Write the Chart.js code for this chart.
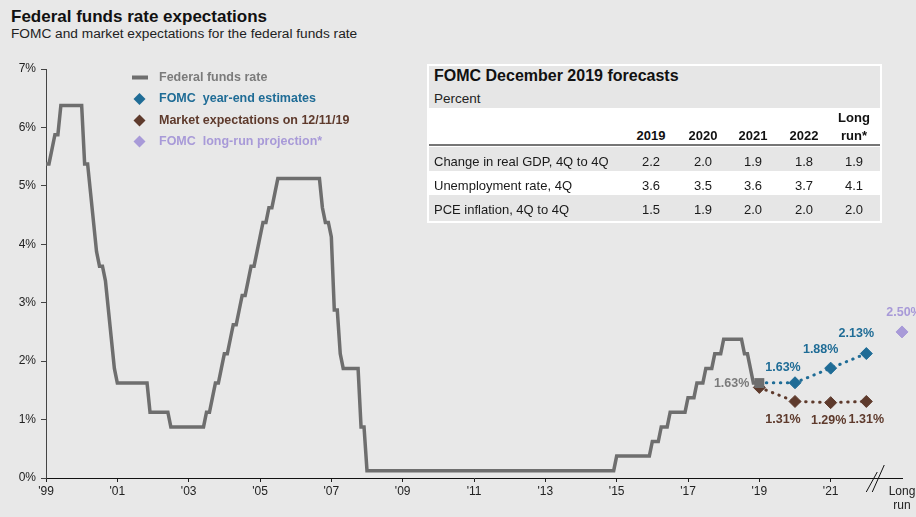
<!DOCTYPE html>
<html>
<head>
<meta charset="utf-8">
<title>Federal funds rate expectations</title>
<script src="https://cdn.jsdelivr.net/npm/chart.js@4.4.1/dist/chart.umd.min.js"></script>
<style>
  html, body { margin: 0; padding: 0; background: #e8e8e8; }
  #page { position: relative; width: 916px; height: 517px; overflow: hidden; background: #e8e8e8;
          font-family: "Liberation Sans", Arial, Helvetica, sans-serif; color: #111; }
  #page canvas { position: absolute; left: 0; top: 0; }
  .t { position: absolute; line-height: 1; white-space: nowrap; }
  .blk { position: absolute; }
</style>
</head>
<body>
<div id="page">
  <div class="t" style="left:11px;top:7.6px;font-size:17px;font-weight:bold;color:#111;">Federal funds rate expectations</div>
  <div class="t" style="left:11px;top:26.5px;font-size:13.7px;color:#222;">FOMC and market expectations for the federal funds rate</div>
  <canvas id="chart" width="916" height="517"></canvas>
  <div id="forecast"></div>
</div>
<script>
// ---- Data -------------------------------------------------------------

// Federal funds target (midpoint of a 25bp range), month-end, Dec 1999 - Dec 2019
const fedFundsRate = [
  5.375,                                                                      // Dec 1999
  5.375,5.625,5.875,5.875,6.375,6.375,6.375,6.375,6.375,6.375,6.375,6.375,  // 2000
  5.375,5.375,4.875,4.375,3.875,3.625,3.625,3.375,2.875,2.375,1.875,1.625,  // 2001
  1.625,1.625,1.625,1.625,1.625,1.625,1.625,1.625,1.625,1.625,1.125,1.125,  // 2002
  1.125,1.125,1.125,1.125,1.125,0.875,0.875,0.875,0.875,0.875,0.875,0.875,  // 2003
  0.875,0.875,0.875,0.875,0.875,1.125,1.125,1.375,1.625,1.625,1.875,2.125,  // 2004
  2.125,2.375,2.625,2.625,2.875,3.125,3.125,3.375,3.625,3.625,3.875,4.125,  // 2005
  4.375,4.375,4.625,4.625,4.875,5.125,5.125,5.125,5.125,5.125,5.125,5.125,  // 2006
  5.125,5.125,5.125,5.125,5.125,5.125,5.125,5.125,4.625,4.375,4.375,4.125,  // 2007
  2.875,2.875,2.125,1.875,1.875,1.875,1.875,1.875,1.875,0.875,0.875,0.125,  // 2008
  0.125,0.125,0.125,0.125,0.125,0.125,0.125,0.125,0.125,0.125,0.125,0.125,  // 2009
  0.125,0.125,0.125,0.125,0.125,0.125,0.125,0.125,0.125,0.125,0.125,0.125,  // 2010
  0.125,0.125,0.125,0.125,0.125,0.125,0.125,0.125,0.125,0.125,0.125,0.125,  // 2011
  0.125,0.125,0.125,0.125,0.125,0.125,0.125,0.125,0.125,0.125,0.125,0.125,  // 2012
  0.125,0.125,0.125,0.125,0.125,0.125,0.125,0.125,0.125,0.125,0.125,0.125,  // 2013
  0.125,0.125,0.125,0.125,0.125,0.125,0.125,0.125,0.125,0.125,0.125,0.125,  // 2014
  0.125,0.125,0.125,0.125,0.125,0.125,0.125,0.125,0.125,0.125,0.125,0.375,  // 2015
  0.375,0.375,0.375,0.375,0.375,0.375,0.375,0.375,0.375,0.375,0.375,0.625,  // 2016
  0.625,0.625,0.875,0.875,0.875,1.125,1.125,1.125,1.125,1.125,1.125,1.375,  // 2017
  1.375,1.375,1.625,1.625,1.625,1.875,1.875,1.875,2.125,2.125,2.125,2.375,  // 2018
  2.375,2.375,2.375,2.375,2.375,2.375,2.125,2.125,1.875,1.625,1.625,1.625   // 2019
];
const fedFundsFirstYearEnd = 1999;   // first entry is December 1999

// Year-end projections (x = end of year)
const projectionYears   = [2019, 2020, 2021, 2022];
const fomcYearEnd       = [1.63, 1.63, 1.88, 2.13];
const marketExpectation = [1.55, 1.31, 1.29, 1.31];
const longRunSlot       = 2023;
const fomcLongRun       = [2.50];

// Axis
const xTickValues = [1999, 2001, 2003, 2005, 2007, 2009, 2011, 2013, 2015, 2017, 2019, 2021, 2023];
const xTickLabels = ["'99", "'01", "'03", "'05", "'07", "'09", "'11", "'13", "'15", "'17", "'19", "'21", ["Long", "run"]];

// Legend text
const legendLabels = ['Federal funds rate', 'FOMC  year-end estimates', 'Market expectations on 12/11/19', 'FOMC  long-run projection*'];

// FOMC December 2019 forecast table
const forecastColumns      = ['2019', '2020', '2021', '2022', 'Long run*'];
const forecastRowLabels    = ['Change in real GDP, 4Q to 4Q', 'Unemployment rate, 4Q', 'PCE inflation, 4Q to 4Q'];
const gdpForecast          = [2.2, 2.0, 1.9, 1.8, 1.9];
const unemploymentForecast = [3.6, 3.5, 3.6, 3.7, 4.1];
const pceForecast          = [1.5, 1.9, 2.0, 2.0, 2.0];

// ---- Styles -----------------------------------------------------------
const FONT = '"Liberation Sans", Arial, Helvetica, sans-serif';
const C_FED = '#6e6e6e';
const C_FED_TEXT = '#7b7b7b';
const C_FOMC = '#1f6c96';
const C_MKT = '#5e3a2c';
const C_LR = '#a89ad8';

// ---- Datasets ---------------------------------------------------------
const fedFundsPoints = fedFundsRate.map((v, i) => ({ x: fedFundsFirstYearEnd + i / 12, y: v }));
const fomcPoints = projectionYears.map((yr, i) => ({ x: yr, y: fomcYearEnd[i] }));
const marketPoints = projectionYears.map((yr, i) => ({ x: yr, y: marketExpectation[i] }));
const longRunPoints = fomcLongRun.map(v => ({ x: longRunSlot, y: v }));

const lastFed = fedFundsPoints.length - 1;

// ---- Label placement (pixel offsets from each point) -------------------
const fomcLabelOffsets = [null, [-12, -15], [-10, -19], [-10, -20]];
const marketLabelOffsets = [null, [-12, 18], [-2, 18], [0, 18]];
const longRunLabelOffset = [2, -19];

const pct = v => v.toFixed(2) + '%';

const valueLabels = {
  id: 'valueLabels',
  afterDatasetsDraw(chart) {
    const { ctx } = chart;
    ctx.save();
    ctx.font = 'bold 12.5px ' + FONT;
    ctx.textBaseline = 'middle';

    // last federal funds value
    const fm = chart.getDatasetMeta(0).data[lastFed];
    ctx.fillStyle = C_FED_TEXT;
    ctx.textAlign = 'right';
    ctx.fillText(pct(fedFundsRate[lastFed]), fm.x - 10, fm.y);

    ctx.textAlign = 'center';
    const fomcMeta = chart.getDatasetMeta(1).data;
    ctx.fillStyle = C_FOMC;
    fomcYearEnd.forEach((v, i) => {
      const o = fomcLabelOffsets[i];
      if (!o) return;
      ctx.fillText(pct(v), fomcMeta[i].x + o[0], fomcMeta[i].y + o[1]);
    });

    const mktMeta = chart.getDatasetMeta(2).data;
    ctx.fillStyle = C_MKT;
    marketExpectation.forEach((v, i) => {
      const o = marketLabelOffsets[i];
      if (!o) return;
      ctx.fillText(pct(v), mktMeta[i].x + o[0], mktMeta[i].y + o[1]);
    });

    const lr = chart.getDatasetMeta(3).data[0];
    ctx.fillStyle = C_LR;
    ctx.fillText(pct(fomcLongRun[0]), lr.x + longRunLabelOffset[0], lr.y + longRunLabelOffset[1]);
    ctx.restore();
  }
};

function diamond(ctx, x, y, r, color) {
  ctx.beginPath();
  ctx.moveTo(x, y - r);
  ctx.lineTo(x + r, y);
  ctx.lineTo(x, y + r);
  ctx.lineTo(x - r, y);
  ctx.closePath();
  ctx.fillStyle = color;
  ctx.fill();
}

const legendBox = {
  id: 'legendBox',
  afterDraw(chart) {
    const { ctx } = chart;
    const colors = [C_FED, C_FOMC, C_MKT, C_LR];
    const textColors = [C_FED_TEXT, C_FOMC, C_MKT, C_LR];
    const rowY = [77.5, 99, 120.5, 141.5];
    ctx.save();
    ctx.font = 'bold 12.5px ' + FONT;
    ctx.textBaseline = 'middle';
    ctx.textAlign = 'left';
    legendLabels.forEach((txt, i) => {
      const y = rowY[i];
      if (i === 0) {
        ctx.fillStyle = colors[0];
        ctx.fillRect(132, y - 2, 16, 4);
      } else {
        diamond(ctx, 139.5, y, 6, colors[i]);
      }
      ctx.fillStyle = textColors[i];
      ctx.fillText(txt, 159, y);
    });
    ctx.restore();
  }
};

// axis break marks between the last projection year and the long-run slot
const axisBreak = {
  id: 'axisBreak',
  afterDraw(chart) {
    const { ctx, scales: { x, y } } = chart;
    const cx = x.getPixelForValue(2022.25);
    const cy = y.getPixelForValue(0);
    ctx.save();
    ctx.strokeStyle = '#111';
    ctx.lineWidth = 1;
    ctx.beginPath();
    ctx.moveTo(cx - 9, cy + 14); ctx.lineTo(cx + 2, cy - 6);
    ctx.moveTo(cx - 3, cy + 14); ctx.lineTo(cx + 9, cy - 13);
    ctx.stroke();
    ctx.restore();
  }
};

new Chart(document.getElementById('chart'), {
  type: 'line',
  data: {
    datasets: [
      {
        label: legendLabels[0],
        data: fedFundsPoints,
        borderColor: C_FED,
        backgroundColor: C_FED,
        borderWidth: 3.5,
        borderJoinStyle: 'miter',
        tension: 0,
        pointStyle: 'rect',
        pointRadius: ctx => (ctx.dataIndex === lastFed ? 7 : 0),
        pointBorderWidth: 0,
        pointBackgroundColor: C_FED
      },
      {
        label: legendLabels[1],
        data: fomcPoints,
        borderColor: C_FOMC,
        backgroundColor: C_FOMC,
        borderWidth: 3,
        borderDash: [0.5, 6.5],
        borderCapStyle: 'round',
        pointStyle: 'rectRot',
        pointRadius: ctx => (ctx.dataIndex === 0 ? 0 : 6),
        pointBorderWidth: 1,
        pointBorderColor: C_FOMC,
        pointBackgroundColor: C_FOMC,
        clip: false
      },
      {
        label: legendLabels[2],
        data: marketPoints,
        borderColor: C_MKT,
        backgroundColor: C_MKT,
        borderWidth: 3,
        borderDash: [0.5, 6.5],
        borderCapStyle: 'round',
        pointStyle: 'rectRot',
        pointRadius: 6,
        pointBorderWidth: 1,
        pointBorderColor: C_MKT,
        pointBackgroundColor: C_MKT,
        clip: false
      },
      {
        label: legendLabels[3],
        data: longRunPoints,
        showLine: false,
        pointStyle: 'rectRot',
        pointRadius: 6,
        pointBorderWidth: 1,
        pointBorderColor: C_LR,
        pointBackgroundColor: C_LR,
        clip: false
      }
    ]
  },
  options: {
    responsive: false,
    animation: false,
    layout: { padding: { top: 69, right: 14, left: 0, bottom: 0 } },
    plugins: { legend: { display: false }, tooltip: { enabled: false }, title: { display: false } },
    scales: {
      x: {
        type: 'linear',
        min: 1999,
        max: 2023,
        afterBuildTicks(scale) { scale.ticks = xTickValues.map(v => ({ value: v })); },
        afterFit(scale) { scale.height = 39; scale.paddingLeft = 0; scale.paddingRight = 0; },
        ticks: {
          autoSkip: false,
          maxRotation: 0,
          padding: 3.5,
          color: '#222',
          font: { family: FONT, size: 12, lineHeight: 1.1 },
          callback: value => {
            const i = xTickValues.indexOf(value);
            return i >= 0 ? xTickLabels[i] : '';
          }
        },
        grid: {
          drawOnChartArea: false,
          drawTicks: true,
          tickLength: 4,
          tickColor: ctx => (ctx.tick && ctx.tick.value === longRunSlot ? 'rgba(0,0,0,0)' : '#222')
        },
        border: { display: true, color: '#111', width: 1 }
      },
      y: {
        min: 0,
        max: 7,
        afterFit(scale) { scale.width = 46; },
        ticks: {
          stepSize: 1,
          padding: 5,
          color: '#222',
          font: { family: FONT, size: 12 },
          callback: v => v + '%'
        },
        grid: { drawOnChartArea: false, drawTicks: true, tickLength: 5, tickColor: '#444' },
        border: { display: true, color: '#444', width: 1 }
      }
    }
  },
  plugins: [valueLabels, legendBox, axisBreak]
});

// ---- Forecast table -----------------------------------------------------
(function buildTable() {
  const host = document.getElementById('forecast');
  const colCenters = [651, 703, 753, 804, 854];
  const rowTops = [147, 170.5, 194.5];
  const rowHeights = [23.5, 24, 26];
  const rowBg = ['#e6e6e6', '#ffffff', '#e6e6e6'];
  const rowBaselines = [166.5, 190.5, 214.5];
  const rowValues = [gdpForecast, unemploymentForecast, pceForecast];

  function block(left, top, w, h, bg) {
    const d = document.createElement('div');
    d.className = 'blk';
    Object.assign(d.style, { left: left + 'px', top: top + 'px', width: w + 'px', height: h + 'px', background: bg });
    host.appendChild(d);
  }
  function text(str, left, baseline, size, opts) {
    const d = document.createElement('div');
    d.className = 't';
    d.textContent = str;
    d.style.fontSize = size + 'px';
    d.style.top = (baseline - 0.8465 * size) + 'px';
    d.style.color = (opts && opts.color) || '#111';
    if (opts && opts.bold) d.style.fontWeight = 'bold';
    if (opts && opts.center) {
      d.style.left = (left - 60) + 'px';
      d.style.width = '120px';
      d.style.textAlign = 'center';
    } else {
      d.style.left = left + 'px';
    }
    host.appendChild(d);
  }

  block(427, 64, 455, 159, '#ffffff');
  block(429, 66, 451, 42, '#e6e6e6');
  text('FOMC December 2019 forecasts', 434, 81.5, 16, { bold: true });
  text('Percent', 434, 103, 13.5, { color: '#222' });

  forecastColumns.forEach((c, i) => {
    if (c.indexOf(' ') > 0) {
      const parts = c.split(' ');
      text(parts[0], colCenters[i], 122.3, 13, { bold: true, center: true });
      text(parts[1], colCenters[i], 140, 13, { bold: true, center: true });
    } else {
      text(c, colCenters[i], 140, 13, { bold: true, center: true });
    }
  });
  block(429, 144, 451, 2, '#767676');

  forecastRowLabels.forEach((lab, r) => {
    block(429, rowTops[r], 451, rowHeights[r], rowBg[r]);
    text(lab, 434, rowBaselines[r], 13, { color: '#1a1a1a' });
    rowValues[r].forEach((v, i) => text(v.toFixed(1), colCenters[i], rowBaselines[r], 13, { color: '#1a1a1a', center: true }));
  });
})();
</script>
</body>
</html>
